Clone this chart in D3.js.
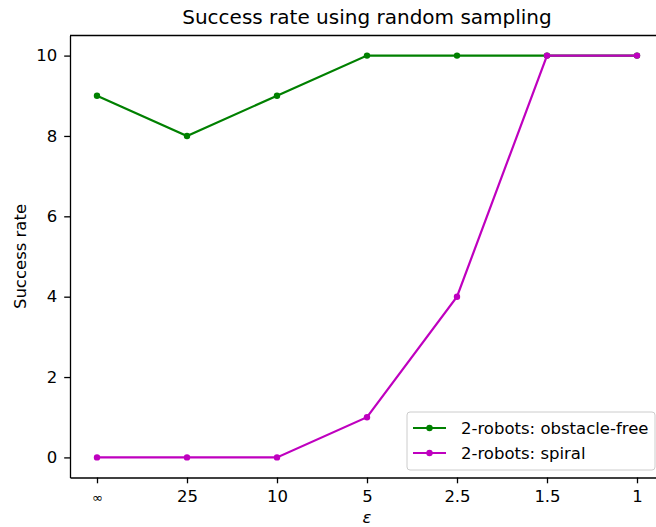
<!DOCTYPE html>
<html lang="en">
<head>
  <meta charset="utf-8">
  <title>Success rate using random sampling</title>
  <style>
    body { margin: 0; background: #fff; }
    svg { display: block; font-family: "DejaVu Sans", sans-serif; }
    .tick text { font-size: 16.5px; fill: #000; font-family: "DejaVu Sans", sans-serif; }
    .tick line, .domain { stroke: #000; stroke-width: 1.3px; }
  </style>
  <script src="https://d3js.org/d3.v7.min.js"></script>
</head>
<body>
<script>
  let epsLabels = ["∞", "25", "10", "5", "2.5", "1.5", "1"]
  let obstacleFree = [9, 8, 9, 10, 10, 10, 10]
  let spiral = [0, 0, 0, 1, 4, 10, 10]
  let yTicks = [0, 2, 4, 6, 8, 10]

  let width = 656
  let height = 527
  let plotLeft = 70, plotRight = 664, plotTop = 35.5, plotBottom = 477.5

  let series = [
    { name: "2-robots: obstacle-free", values: obstacleFree, color: "#008000" },
    { name: "2-robots: spiral", values: spiral, color: "#bf00bf" }
  ]

  let svg = d3.select("body").append("svg")
    .attr("width", width)
    .attr("height", height)

  let xScale = d3.scalePoint()
    .domain(epsLabels)
    .range([plotLeft, plotRight])
    .padding(0.3)

  let yScale = d3.scaleLinear()
    .domain([-0.5, 10.5])
    .range([plotBottom, plotTop])

  // axes
  let xAxis = d3.axisBottom(xScale).tickSize(5.8).tickPadding(7).tickSizeOuter(0)
  let yAxis = d3.axisLeft(yScale).tickValues(yTicks).tickSize(5.8).tickPadding(7).tickSizeOuter(0)

  svg.append("g")
    .attr("transform", `translate(0, ${plotBottom})`)
    .call(xAxis)
    .call(g => g.selectAll(".tick text")
      .filter(d => d === "∞")
      .style("font-size", "13px")
      .attr("dy", "0.9em"))

  svg.append("g")
    .attr("transform", `translate(${plotLeft}, 0)`)
    .call(yAxis)

  // top and right spines
  svg.append("line")
    .attr("x1", plotLeft).attr("x2", plotRight)
    .attr("y1", plotTop).attr("y2", plotTop)
    .attr("stroke", "#000").attr("stroke-width", 1.3)
  svg.append("line")
    .attr("x1", plotRight).attr("x2", plotRight)
    .attr("y1", plotTop).attr("y2", plotBottom)
    .attr("stroke", "#000").attr("stroke-width", 1.3)

  // lines
  let line = d3.line()
    .x((d, i) => xScale(epsLabels[i]))
    .y(d => yScale(d))

  series.forEach(s => {
    svg.append("path")
      .datum(s.values)
      .attr("d", line)
      .attr("fill", "none")
      .attr("stroke", s.color)
      .attr("stroke-width", 2.2)

    svg.append("g").selectAll("circle")
      .data(s.values)
      .enter()
      .append("circle")
      .attr("cx", (d, i) => xScale(epsLabels[i]))
      .attr("cy", d => yScale(d))
      .attr("r", 3.2)
      .attr("fill", s.color)
  })

  // title and labels
  svg.append("text")
    .attr("x", (plotLeft + plotRight) / 2)
    .attr("y", 24)
    .attr("text-anchor", "middle")
    .attr("font-size", "20px")
    .text("Success rate using random sampling")

  svg.append("text")
    .attr("transform", `translate(26, ${(plotTop + plotBottom) / 2}) rotate(-90)`)
    .attr("text-anchor", "middle")
    .attr("font-size", "16.5px")
    .text("Success rate")

  svg.append("text")
    .attr("x", (plotLeft + plotRight) / 2)
    .attr("y", 523)
    .attr("text-anchor", "middle")
    .attr("font-size", "16.5px")
    .attr("font-style", "italic")
    .text("ε")

  // legend
  let legend = svg.append("g").attr("transform", "translate(407, 412)")
  legend.append("rect")
    .attr("width", 248).attr("height", 58)
    .attr("rx", 3)
    .attr("fill", "#fff").attr("fill-opacity", 0.8)
    .attr("stroke", "#cccccc").attr("stroke-width", 1)

  series.forEach((s, i) => {
    let row = legend.append("g").attr("transform", `translate(0, ${16 + i * 25})`)
    row.append("line")
      .attr("x1", 6).attr("x2", 39)
      .attr("stroke", s.color).attr("stroke-width", 2.2)
    row.append("circle")
      .attr("cx", 22.5).attr("r", 3.2).attr("fill", s.color)
    row.append("text")
      .attr("x", 54).attr("dy", "0.35em")
      .attr("font-size", "16.5px")
      .text(s.name)
  })
</script>
</body>
</html>
